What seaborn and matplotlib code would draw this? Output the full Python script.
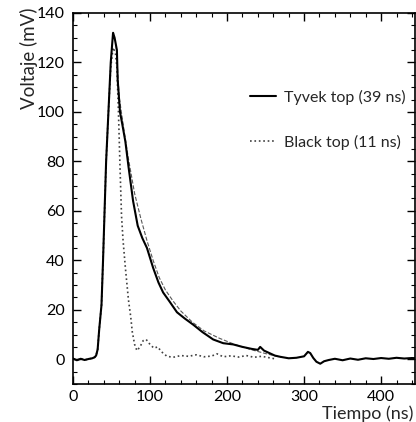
import numpy as np
import pandas as pd
import matplotlib
matplotlib.use("Agg")
import matplotlib.pyplot as plt
from matplotlib.ticker import MultipleLocator
import seaborn as sns

# Tyvek top (39 ns) measured pulse
tyvek_t = [0, 5, 10, 15, 20, 25, 28, 30, 32, 34, 37, 39, 41, 43, 46, 49, 52, 54, 57, 58, 61, 64, 68, 72,
           78, 84, 90, 96, 104, 111, 117, 125, 135, 145, 156, 168, 182, 195, 208, 220, 232, 240, 243, 248,
           255, 262, 269, 280, 290, 300, 305, 308, 312, 316, 321, 326, 332, 340, 350, 360, 370, 380, 390,
           400, 410, 420, 430, 440, 448]
tyvek_v = [0.3, -0.4, 0.2, -0.3, 0.1, 0.4, 0.8, 1.5, 4, 12, 22, 40, 60, 80, 100, 120, 132, 130, 125, 113,
           100, 95, 88, 78, 64, 54, 49, 45, 37, 31, 27, 23.5, 19, 16.5, 14, 11, 8, 6.5, 6, 5, 4.2, 3.8, 5, 3.5,
           2.5, 1.5, 1, 0.4, 0.6, 1.2, 3, 2.5, 0.5, -1, -1.8, -0.8, -0.3, 0.2, -0.4, 0.3, -0.2, 0.4, 0.1,
           0.5, 0.2, 0.6, 0.3, 0.5, 0.4]

# Black top (11 ns) measured pulse
black_t = [0, 5, 10, 15, 20, 25, 28, 30, 32, 34, 37, 39, 41, 43, 46, 49, 52, 55, 57, 59, 61, 63, 65, 68,
           72, 75, 77, 80, 83, 87, 91, 95, 100, 105, 110, 115, 122, 130, 140, 150, 160, 170, 180, 187, 195,
           205, 215, 225, 235, 245, 255, 262]
black_v = [0.3, -0.4, 0.2, -0.3, 0.1, 0.4, 0.8, 1.5, 4, 12, 22, 40, 60, 80, 100, 118, 126, 124, 118, 100,
           78, 58, 48, 37, 24, 17, 11, 6, 3.5, 5, 7.5, 8, 6, 4.5, 5, 3, 1.2, 0.8, 1.5, 1.2, 1.8, 1.0, 1.3,
           2.2, 1.0, 1.4, 0.9, 1.5, 0.8, 1.2, 0.6, 0.2]

# thin fit curve over the Tyvek decay
fit_t = [56, 60, 66, 72, 80, 88, 96, 104, 112, 120, 130, 140, 155, 170, 190, 210, 230, 250, 270]
fit_v = [127, 106, 93, 81, 67, 57, 48, 40, 33, 28, 23.5, 19.5, 15, 11.5, 8.5, 6, 4, 2.3, 0.8]

x_ticks = [0, 100, 200, 300, 400]
y_ticks = [0, 20, 40, 60, 80, 100, 120, 140]

sns.set_theme(style="ticks")
plt.rcParams['font.family'] = ['Lato', 'DejaVu Sans']

W, H = 416, 422
fig = plt.figure(figsize=(W / 100, H / 100), dpi=100)
ax = fig.add_axes([73 / W, 1 - 384 / H, (415 - 73) / W, (384 - 13) / H])

df_ty = pd.DataFrame({"t": tyvek_t, "v": tyvek_v})
df_bl = pd.DataFrame({"t": black_t, "v": black_v})
df_fit = pd.DataFrame({"t": fit_t, "v": fit_v})

sns.lineplot(data=df_fit, x="t", y="v", ax=ax, color="0.35", lw=0.8, ls="--", estimator=None, sort=False)
sns.lineplot(data=df_bl, x="t", y="v", ax=ax, color="0.25", lw=1.2, ls=":", estimator=None, sort=False,
             label="Black top (11 ns)")
sns.lineplot(data=df_ty, x="t", y="v", ax=ax, color="black", lw=1.5, estimator=None, sort=False,
             label="Tyvek top (39 ns)")

ax.set_xlim(0, 444)
ax.set_ylim(-10, 140)
ax.set_xticks(x_ticks)
ax.set_yticks(y_ticks)
ax.xaxis.set_minor_locator(MultipleLocator(20))
ax.yaxis.set_minor_locator(MultipleLocator(5))
ax.tick_params(which="both", direction="in", top=True, right=True, colors="black", labelsize=11.5)
ax.tick_params(which="major", length=6, width=1)
ax.tick_params(which="minor", length=3, width=0.8)
ax.tick_params(axis="y", pad=6)
ax.tick_params(axis="x", pad=4)
for s in ax.spines.values():
    s.set_color("black")
    s.set_linewidth(1.2)
ax.set_xlabel("")
ax.set_ylabel("")

handles, labels = ax.get_legend_handles_labels()
order = [labels.index("Tyvek top (39 ns)"), labels.index("Black top (11 ns)")]
ax.legend([handles[i] for i in order], [labels[i] for i in order],
          loc="upper left", bbox_to_anchor=(250 / W, 1 - 90 / H), bbox_transform=fig.transFigure,
          frameon=False, fontsize=11.5, handlelength=1.6, handletextpad=0.5, labelspacing=1.85,
          borderpad=0, borderaxespad=0)

fig.text(29 / W, 1 - 58 / H, "Voltaje (mV)", rotation=90, ha="center", va="center", fontsize=13.5)
fig.text(413 / W, 1 - 414 / H, "Tiempo (ns)", ha="right", va="center", fontsize=13)

fig.savefig("out.png", dpi=100)
